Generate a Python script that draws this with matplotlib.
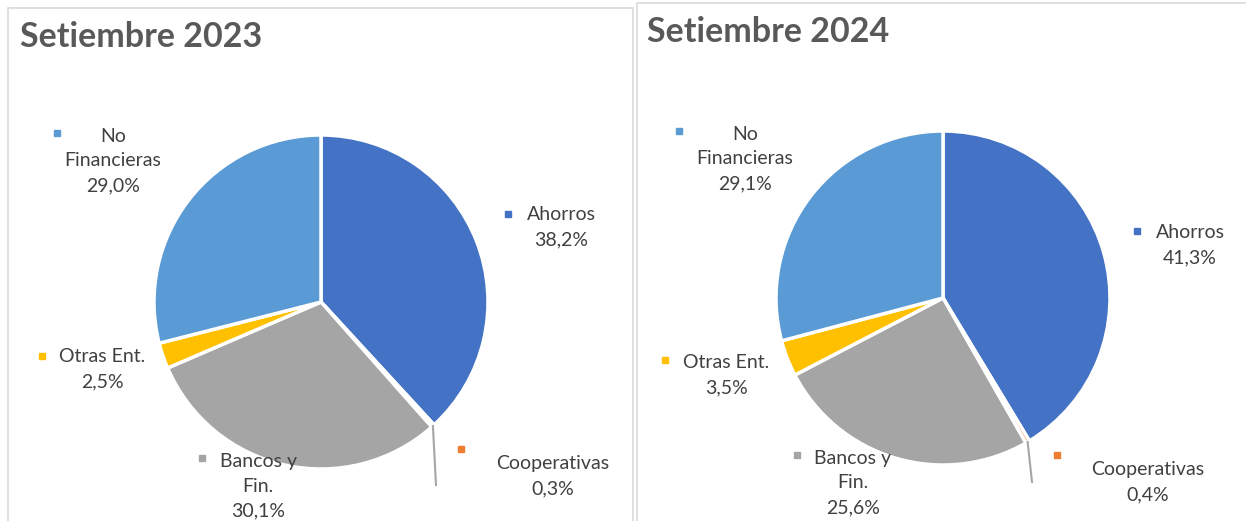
import matplotlib.pyplot as plt
import numpy as np
from matplotlib.patches import Rectangle

# datos
categorias = ['Ahorros', 'Cooperativas', 'Bancos y\nFin.', 'Otras Ent.', 'No\nFinancieras']
valores_2023 = [38.2, 0.3, 30.1, 2.5, 29.0]
valores_2024 = [41.3, 0.4, 25.6, 3.5, 29.1]
titulos = ['Setiembre 2023', 'Setiembre 2024']
colores = ['#4472C4', '#ED7D31', '#A5A5A5', '#FFC000', '#5B9BD5']

W, H = 1246, 521
fig = plt.figure(figsize=(W / 100, H / 100), dpi=100)
ax = fig.add_axes([0, 0, 1, 1])

def py(y):
    # pixel desde arriba -> coordenada del eje
    return H - y

# posiciones en pixeles (x, y desde arriba)
paneles = [
    dict(caja=(8, 8, 633), titulo=(20, 37), centro=(321, 302), radio=167,
         etiquetas=[(561, 227), (553, 476), (258, 486), (102, 369), (113, 161)],
         marcas=[(508, 214), (461, 449), (202, 458), (42, 356), (57, 133)],
         guia=(436, 485)),
    dict(caja=(637, 3, 1252), titulo=(647, 32), centro=(943, 298), radio=167,
         etiquetas=[(1190, 245), (1148, 482), (853, 483), (726, 375), (745, 159)],
         marcas=[(1137, 231), (1057, 455), (797, 455), (665, 360), (679, 131)],
         guia=(1032, 482)),
]

for p, valores, titulo in zip(paneles, [valores_2023, valores_2024], titulos):
    x0, y0, x1 = p['caja']
    ax.add_patch(Rectangle((x0, -20), x1 - x0, py(y0) + 20, fill=False,
                           edgecolor='#D9D9D9', linewidth=1.2))
    ax.text(p['titulo'][0], py(p['titulo'][1]), titulo, fontsize=24.5, fontweight='bold',
            color='#595959', family='Lato', ha='left', va='center')

    cx, cy = p['centro']
    wedges, _ = ax.pie(valores, colors=colores, startangle=90, counterclock=False,
                       center=(cx, py(cy)), radius=p['radio'], frame=True,
                       wedgeprops=dict(edgecolor='white', linewidth=2.5))

    # linea guia de Cooperativas
    w = wedges[1]
    ang = np.deg2rad((w.theta1 + w.theta2) / 2)
    xs = cx + p['radio'] * np.cos(ang)
    ys = py(cy) + p['radio'] * np.sin(ang)
    gx, gy = p['guia']
    ax.plot([xs, gx], [ys, py(gy)], color='#A6A6A6', linewidth=1.5)

    for cat, val, col, (tx, ty), (mx, my) in zip(categorias, valores, colores,
                                                  p['etiquetas'], p['marcas']):
        texto = cat + '\n' + f'{val:.1f}%'.replace('.', ',')
        ax.text(tx, py(ty), texto, fontsize=14, color='#404040', family='Lato',
                ha='center', va='center', multialignment='center', linespacing=1.56)
        ax.plot(mx, py(my), marker='s', markersize=5, color=col, linestyle='none')

ax.set_xlim(0, W)
ax.set_ylim(0, H)
ax.set_aspect('equal')
ax.axis('off')

fig.savefig('out.png', dpi=100, facecolor='white')
